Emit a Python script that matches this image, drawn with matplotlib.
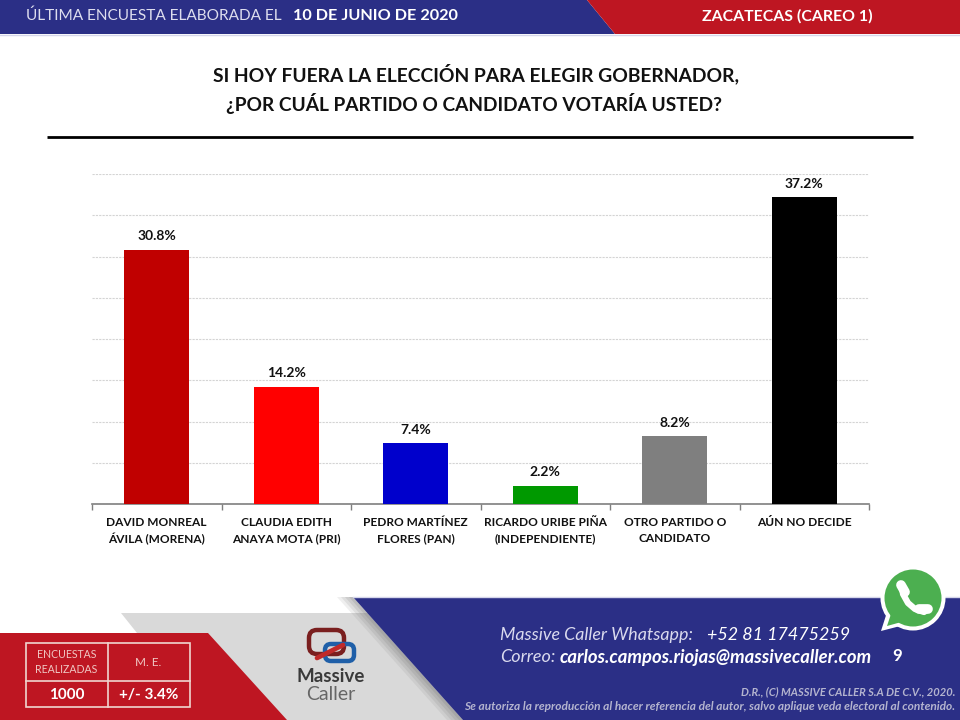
import matplotlib
matplotlib.use("Agg")
import matplotlib.pyplot as plt
from matplotlib.patches import Polygon, Circle, FancyBboxPatch, Rectangle

plt.rcParams['font.family'] = ['Lato', 'DejaVu Sans']

candidatos = ["DAVID MONREAL\nÁVILA (MORENA)", "CLAUDIA EDITH\nANAYA MOTA (PRI)", "PEDRO MARTÍNEZ\nFLORES (PAN)",
              "RICARDO URIBE PIÑA\n(INDEPENDIENTE)", "OTRO PARTIDO O\nCANDIDATO", "AÚN NO DECIDE"]
valores = [30.8, 14.2, 7.4, 2.2, 8.2, 37.2]
colores = ["#C00000", "#FF0000", "#0000CC", "#009900", "#7F7F7F", "#000000"]
marcas_y = [0, 5, 10, 15, 20, 25, 30, 35, 40]

AZUL = "#2B2F86"
ROJO = "#BE1622"

fig = plt.figure(figsize=(9.6, 7.2), dpi=100, facecolor="white")

# capa de fondo en pixeles (banners, tabla, logo)
bg = fig.add_axes([0, 0, 1, 1])
bg.set_xlim(0, 960)
bg.set_ylim(720, 0)
bg.axis("off")

# banner superior
bg.add_patch(Polygon([(0, 0), (587, 0), (615, 34), (0, 34)], color=AZUL, lw=0))
bg.add_patch(Polygon([(587, 0), (960, 0), (960, 34), (615, 34)], color=ROJO, lw=0))
bg.plot([0, 960], [35, 35], color="#D5D6EA", lw=1)
bg.text(26, 16, "ÚLTIMA ENCUESTA ELABORADA EL", color="#DDDDEE", fontsize=11.1, va="center")
bg.text(293, 16, "10 DE JUNIO DE 2020", color="white", fontsize=11.7, va="center", fontweight="bold")
bg.text(787, 16, "ZACATECAS (CAREO 1)", color="white", fontsize=11.4, va="center", ha="center", fontweight="bold")

# titulo
bg.text(476, 74, "SI HOY FUERA LA ELECCIÓN PARA ELEGIR GOBERNADOR,", fontsize=13.85, fontweight="bold",
        ha="center", va="center", color="#111111")
bg.text(474, 103, "¿POR CUÁL PARTIDO O CANDIDATO VOTARÍA USTED?", fontsize=13.75, fontweight="bold",
        ha="center", va="center", color="#111111")
bg.plot([47, 913], [136.5, 136.5], color="black", lw=2, solid_capstyle="butt")

# pie: gris, rojo, sombra, azul
bg.add_patch(Polygon([(121, 613), (380, 613), (480, 720), (220, 720), (137, 633)], color="#D9D9D9", lw=0))
for desp, alfa in [(16, 0.10), (12, 0.12), (8, 0.14), (4, 0.16)]:
    bg.add_patch(Polygon([(353 - desp, 597), (353, 597), (463, 720), (463 - desp, 720)], color="#666666", alpha=alfa, lw=0))
bg.add_patch(Polygon([(0, 633), (208, 633), (287, 720), (0, 720)], color=ROJO, lw=0))
bg.add_patch(Polygon([(353, 597), (960, 597), (960, 720), (463, 720)], color=AZUL, lw=0))
bg.plot([353, 960], [596.5, 596.5], color="#D5D6EA", lw=1)

# tabla de encuestas
borde = "#F0D5D0"
bg.add_patch(Rectangle((25.5, 643), 164.5, 64, fill=False, ec=borde, lw=1.2))
bg.plot([25.5, 190], [681, 681], color=borde, lw=1.2)
bg.plot([107.5, 107.5], [643, 707], color=borde, lw=1.2)
bg.text(66.5, 655, "ENCUESTAS", color="#F0C8C4", fontsize=7.6, ha="center", va="center")
bg.text(66.5, 669.5, "REALIZADAS", color="#F0C8C4", fontsize=7.6, ha="center", va="center")
bg.text(148.5, 662, "M. E.", color="#F0C8C4", fontsize=8.5, ha="center", va="center")
bg.text(66.5, 695, "1000", color="white", fontsize=11, ha="center", va="center", fontweight="bold")
bg.text(148.5, 695, "+/- 3.4%", color="white", fontsize=11, ha="center", va="center", fontweight="bold")

# logo
bg.add_patch(FancyBboxPatch((309, 630), 35, 24, boxstyle="round,pad=0,rounding_size=8", fill=False,
                            ec="#7A1F1F", lw=3.2))
bg.add_patch(FancyBboxPatch((325, 644), 29, 17, boxstyle="round,pad=0,rounding_size=6", fill=False,
                            ec="#1F5FA8", lw=3.2))
bg.plot([317, 343], [658, 645], color="#C02A2A", lw=3.4, solid_capstyle="round")
bg.text(331, 677, "Massive", color="#3A3A3A", fontsize=13.5, ha="center", va="center", fontweight="bold")
bg.text(331, 695, "Caller", color="#666666", fontsize=14, ha="center", va="center")

# contacto
bg.text(500, 635, "Massive Caller Whatsapp:", color="#DADAEE", fontsize=12.9, style="italic", va="center")
bg.text(707, 635, "+52 81 17475259", color="white", fontsize=12.9, style="italic", va="center")
bg.text(500, 657, "Correo:", color="#DADAEE", fontsize=13, style="italic", va="center")
bg.text(560, 657, "carlos.campos.riojas@massivecaller.com", color="white", fontsize=13.3, style="italic",
        va="center", fontweight="bold")
bg.text(897, 656, "9", color="white", fontsize=12, ha="center", va="center", fontweight="bold")
bg.text(955, 692, "D.R., (C) MASSIVE CALLER S.A DE C.V., 2020.", color="#B4B4CF", fontsize=8, style="italic",
        ha="right", va="center", fontweight="bold")
bg.text(955, 707, "Se autoriza la reproducción al hacer referencia del autor, salvo aplique veda electoral al contenido.",
        color="#B4B4CF", fontsize=8.6, style="italic", ha="right", va="center", fontweight="bold")

# icono whatsapp
bg.add_patch(Polygon([(881, 631), (889, 606), (908, 624)], color="white", lw=0, zorder=3))
bg.add_patch(Circle((913, 598), 32.5, color="white", lw=0, zorder=3))
bg.add_patch(Polygon([(887, 626), (893, 608), (905, 621)], color="#4CAF50", lw=0, zorder=4))
bg.add_patch(Circle((913, 598), 28.5, color="#4CAF50", lw=0, zorder=4))
bg.plot([902, 903, 908, 915, 924, 928], [586, 594, 603, 609, 612, 609], color="white", lw=4.5,
        solid_capstyle="round", zorder=5)
bg.plot([901, 905], [585, 592], color="white", lw=7, solid_capstyle="round", zorder=5)
bg.plot([919, 928], [609, 609], color="white", lw=7, solid_capstyle="round", zorder=5)

# grafica
ax = fig.add_axes([92 / 960, (720 - 504) / 720, 777 / 960, 330 / 720])
ax.patch.set_alpha(0)
pos = list(range(len(valores)))
barras = ax.bar(pos, valores, width=0.5, color=colores, zorder=3)
for b, v in zip(barras, valores):
    ax.text(b.get_x() + b.get_width() / 2, v + 0.9, f"{v}%", ha="center", va="bottom", fontsize=10,
            fontweight="bold", color="#111111")

ax.set_xlim(-0.5, 5.5)
ax.set_ylim(0, 40)
ax.set_yticks(marcas_y)
ax.set_yticklabels([])
ax.tick_params(axis="y", length=0)
ax.grid(axis="y", color="#D4D4D4", linestyle=(0, (2, 1)), lw=0.8, zorder=0)
ax.set_xticks([p - 0.5 for p in pos] + [5.5])
ax.set_xticklabels([])
ax.tick_params(axis="x", length=4, color="#7F7F7F", width=1, direction="out")
for s in ["top", "left", "right"]:
    ax.spines[s].set_visible(False)
ax.spines["bottom"].set_color("#7F7F7F")
ax.spines["bottom"].set_linewidth(1.2)

for p, nombre in zip(pos, candidatos):
    lineas = nombre.split("\n")
    for i, linea in enumerate(lineas):
        ax.annotate(linea, xy=(p, 0), xycoords="data", xytext=(0, -18 - i * 17), textcoords="offset pixels",
                    ha="center", va="center", fontsize=8.6, fontweight="bold", color="#111111", annotation_clip=False)

fig.savefig("out.png", dpi=100)
